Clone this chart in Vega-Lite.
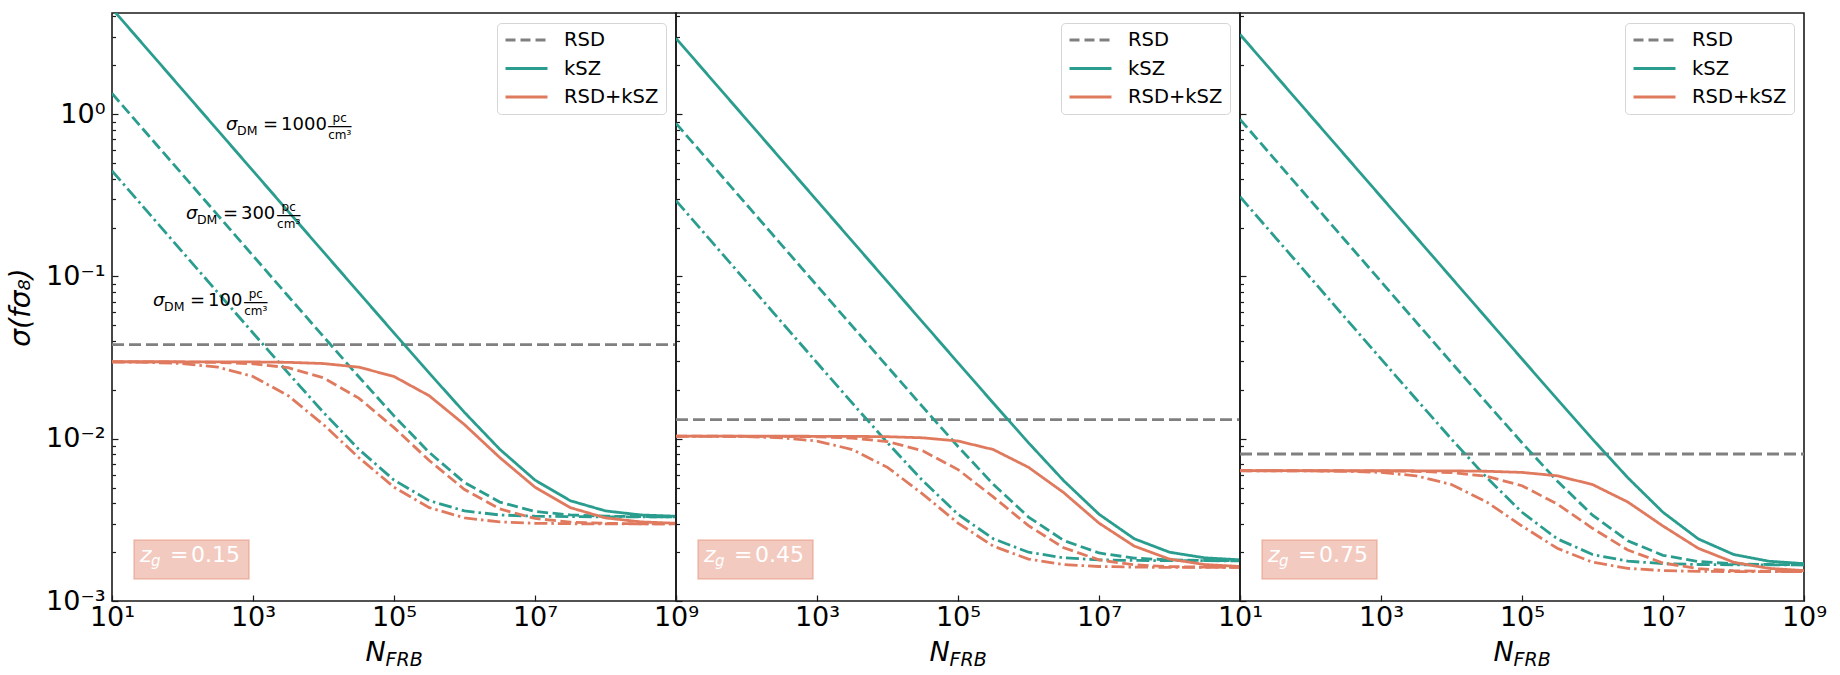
{
"$schema": "https://vega.github.io/schema/vega-lite/v6.json",
"background": "white",
"padding": {"left": 6, "top": 1, "right": 0, "bottom": 0},
"bounds": "flush",
"spacing": 0,
"config": {
  "font": "DejaVu Sans",
  "view": {"stroke": "#1a1a1a", "strokeWidth": 1.6},
  "axis": {"grid": false, "domain": false, "tickColor": "#1a1a1a", "tickWidth": 1.2, "labelFont": "DejaVu Sans", "labelFontSize": 27, "labelColor": "black", "labelFlush": false, "labelOverlap": false, "titleFont": "DejaVu Sans", "titleColor": "black", "titleFontWeight": "normal"},
  "legend": {"orient": "top-right", "offset": 10, "title": null, "symbolType": "stroke", "symbolSize": 1764, "symbolStrokeWidth": 2.8, "clipHeight": 20, "rowPadding": 8.5, "labelFont": "DejaVu Sans", "labelFontSize": 19.5, "labelColor": "black", "labelOffset": 15, "padding": 7, "strokeColor": "#d5d5d5", "fillColor": "white", "cornerRadius": 4}
},
"datasets": {
  "curves": [
    {"zg":"0.15","probe":"RSD","dm":"rsd","N":10,"sigma":0.038},
    {"zg":"0.15","probe":"RSD","dm":"rsd","N":1000000000,"sigma":0.038},
    {"zg":"0.15","probe":"kSZ","dm":"1000","N":10,"sigma":4.472},
    {"zg":"0.15","probe":"kSZ","dm":"1000","N":31.62,"sigma":2.515},
    {"zg":"0.15","probe":"kSZ","dm":"1000","N":100,"sigma":1.414},
    {"zg":"0.15","probe":"kSZ","dm":"1000","N":316.2,"sigma":0.7953},
    {"zg":"0.15","probe":"kSZ","dm":"1000","N":1000,"sigma":0.4472},
    {"zg":"0.15","probe":"kSZ","dm":"1000","N":3162,"sigma":0.2515},
    {"zg":"0.15","probe":"kSZ","dm":"1000","N":10000,"sigma":0.1414},
    {"zg":"0.15","probe":"kSZ","dm":"1000","N":31623,"sigma":0.0796},
    {"zg":"0.15","probe":"kSZ","dm":"1000","N":100000,"sigma":0.04484},
    {"zg":"0.15","probe":"kSZ","dm":"1000","N":316228,"sigma":0.02537},
    {"zg":"0.15","probe":"kSZ","dm":"1000","N":1000000,"sigma":0.01452},
    {"zg":"0.15","probe":"kSZ","dm":"1000","N":3162278,"sigma":0.00861},
    {"zg":"0.15","probe":"kSZ","dm":"1000","N":10000000,"sigma":0.00556},
    {"zg":"0.15","probe":"kSZ","dm":"1000","N":31622777,"sigma":0.00415},
    {"zg":"0.15","probe":"kSZ","dm":"1000","N":100000000,"sigma":0.00359},
    {"zg":"0.15","probe":"kSZ","dm":"1000","N":316227766,"sigma":0.00339},
    {"zg":"0.15","probe":"kSZ","dm":"1000","N":1000000000,"sigma":0.00333},
    {"zg":"0.15","probe":"kSZ","dm":"300","N":10,"sigma":1.342},
    {"zg":"0.15","probe":"kSZ","dm":"300","N":31.62,"sigma":0.7545},
    {"zg":"0.15","probe":"kSZ","dm":"300","N":100,"sigma":0.4243},
    {"zg":"0.15","probe":"kSZ","dm":"300","N":316.2,"sigma":0.2386},
    {"zg":"0.15","probe":"kSZ","dm":"300","N":1000,"sigma":0.1342},
    {"zg":"0.15","probe":"kSZ","dm":"300","N":3162,"sigma":0.07552},
    {"zg":"0.15","probe":"kSZ","dm":"300","N":10000,"sigma":0.04256},
    {"zg":"0.15","probe":"kSZ","dm":"300","N":31623,"sigma":0.02409},
    {"zg":"0.15","probe":"kSZ","dm":"300","N":100000,"sigma":0.01382},
    {"zg":"0.15","probe":"kSZ","dm":"300","N":316228,"sigma":0.00823},
    {"zg":"0.15","probe":"kSZ","dm":"300","N":1000000,"sigma":0.00537},
    {"zg":"0.15","probe":"kSZ","dm":"300","N":3162278,"sigma":0.00407},
    {"zg":"0.15","probe":"kSZ","dm":"300","N":10000000,"sigma":0.00356},
    {"zg":"0.15","probe":"kSZ","dm":"300","N":31622777,"sigma":0.00339},
    {"zg":"0.15","probe":"kSZ","dm":"300","N":100000000,"sigma":0.00333},
    {"zg":"0.15","probe":"kSZ","dm":"300","N":316227766,"sigma":0.00331},
    {"zg":"0.15","probe":"kSZ","dm":"300","N":1000000000,"sigma":0.0033},
    {"zg":"0.15","probe":"kSZ","dm":"100","N":10,"sigma":0.4472},
    {"zg":"0.15","probe":"kSZ","dm":"100","N":31.62,"sigma":0.2515},
    {"zg":"0.15","probe":"kSZ","dm":"100","N":100,"sigma":0.1414},
    {"zg":"0.15","probe":"kSZ","dm":"100","N":316.2,"sigma":0.0796},
    {"zg":"0.15","probe":"kSZ","dm":"100","N":1000,"sigma":0.04484},
    {"zg":"0.15","probe":"kSZ","dm":"100","N":3162,"sigma":0.02537},
    {"zg":"0.15","probe":"kSZ","dm":"100","N":10000,"sigma":0.01452},
    {"zg":"0.15","probe":"kSZ","dm":"100","N":31623,"sigma":0.00861},
    {"zg":"0.15","probe":"kSZ","dm":"100","N":100000,"sigma":0.00556},
    {"zg":"0.15","probe":"kSZ","dm":"100","N":316228,"sigma":0.00415},
    {"zg":"0.15","probe":"kSZ","dm":"100","N":1000000,"sigma":0.00359},
    {"zg":"0.15","probe":"kSZ","dm":"100","N":3162278,"sigma":0.00339},
    {"zg":"0.15","probe":"kSZ","dm":"100","N":10000000,"sigma":0.00333},
    {"zg":"0.15","probe":"kSZ","dm":"100","N":31622777,"sigma":0.00331},
    {"zg":"0.15","probe":"kSZ","dm":"100","N":100000000,"sigma":0.0033},
    {"zg":"0.15","probe":"kSZ","dm":"100","N":316227766,"sigma":0.0033},
    {"zg":"0.15","probe":"kSZ","dm":"100","N":1000000000,"sigma":0.0033},
    {"zg":"0.15","probe":"RSD+kSZ","dm":"1000","N":10,"sigma":0.0298},
    {"zg":"0.15","probe":"RSD+kSZ","dm":"1000","N":31.62,"sigma":0.0298},
    {"zg":"0.15","probe":"RSD+kSZ","dm":"1000","N":100,"sigma":0.02979},
    {"zg":"0.15","probe":"RSD+kSZ","dm":"1000","N":316.2,"sigma":0.02978},
    {"zg":"0.15","probe":"RSD+kSZ","dm":"1000","N":1000,"sigma":0.02972},
    {"zg":"0.15","probe":"RSD+kSZ","dm":"1000","N":3162,"sigma":0.02956},
    {"zg":"0.15","probe":"RSD+kSZ","dm":"1000","N":10000,"sigma":0.02905},
    {"zg":"0.15","probe":"RSD+kSZ","dm":"1000","N":31623,"sigma":0.02761},
    {"zg":"0.15","probe":"RSD+kSZ","dm":"1000","N":100000,"sigma":0.02418},
    {"zg":"0.15","probe":"RSD+kSZ","dm":"1000","N":316228,"sigma":0.01839},
    {"zg":"0.15","probe":"RSD+kSZ","dm":"1000","N":1000000,"sigma":0.01221},
    {"zg":"0.15","probe":"RSD+kSZ","dm":"1000","N":3162278,"sigma":0.007656},
    {"zg":"0.15","probe":"RSD+kSZ","dm":"1000","N":10000000,"sigma":0.005026},
    {"zg":"0.15","probe":"RSD+kSZ","dm":"1000","N":31622777,"sigma":0.003761},
    {"zg":"0.15","probe":"RSD+kSZ","dm":"1000","N":100000000,"sigma":0.003252},
    {"zg":"0.15","probe":"RSD+kSZ","dm":"1000","N":316227766,"sigma":0.003072},
    {"zg":"0.15","probe":"RSD+kSZ","dm":"1000","N":1000000000,"sigma":0.003013},
    {"zg":"0.15","probe":"RSD+kSZ","dm":"300","N":10,"sigma":0.02979},
    {"zg":"0.15","probe":"RSD+kSZ","dm":"300","N":31.62,"sigma":0.02977},
    {"zg":"0.15","probe":"RSD+kSZ","dm":"300","N":100,"sigma":0.02972},
    {"zg":"0.15","probe":"RSD+kSZ","dm":"300","N":316.2,"sigma":0.02953},
    {"zg":"0.15","probe":"RSD+kSZ","dm":"300","N":1000,"sigma":0.02897},
    {"zg":"0.15","probe":"RSD+kSZ","dm":"300","N":3162,"sigma":0.0274},
    {"zg":"0.15","probe":"RSD+kSZ","dm":"300","N":10000,"sigma":0.02373},
    {"zg":"0.15","probe":"RSD+kSZ","dm":"300","N":31623,"sigma":0.0178},
    {"zg":"0.15","probe":"RSD+kSZ","dm":"300","N":100000,"sigma":0.0117},
    {"zg":"0.15","probe":"RSD+kSZ","dm":"300","N":316228,"sigma":0.007341},
    {"zg":"0.15","probe":"RSD+kSZ","dm":"300","N":1000000,"sigma":0.004863},
    {"zg":"0.15","probe":"RSD+kSZ","dm":"300","N":3162278,"sigma":0.003691},
    {"zg":"0.15","probe":"RSD+kSZ","dm":"300","N":10000000,"sigma":0.003226},
    {"zg":"0.15","probe":"RSD+kSZ","dm":"300","N":31622777,"sigma":0.003063},
    {"zg":"0.15","probe":"RSD+kSZ","dm":"300","N":100000000,"sigma":0.00301},
    {"zg":"0.15","probe":"RSD+kSZ","dm":"300","N":316227766,"sigma":0.002993},
    {"zg":"0.15","probe":"RSD+kSZ","dm":"300","N":1000000000,"sigma":0.002987},
    {"zg":"0.15","probe":"RSD+kSZ","dm":"100","N":10,"sigma":0.02972},
    {"zg":"0.15","probe":"RSD+kSZ","dm":"100","N":31.62,"sigma":0.02956},
    {"zg":"0.15","probe":"RSD+kSZ","dm":"100","N":100,"sigma":0.02905},
    {"zg":"0.15","probe":"RSD+kSZ","dm":"100","N":316.2,"sigma":0.02761},
    {"zg":"0.15","probe":"RSD+kSZ","dm":"100","N":1000,"sigma":0.02418},
    {"zg":"0.15","probe":"RSD+kSZ","dm":"100","N":3162,"sigma":0.01839},
    {"zg":"0.15","probe":"RSD+kSZ","dm":"100","N":10000,"sigma":0.01221},
    {"zg":"0.15","probe":"RSD+kSZ","dm":"100","N":31623,"sigma":0.007656},
    {"zg":"0.15","probe":"RSD+kSZ","dm":"100","N":100000,"sigma":0.005026},
    {"zg":"0.15","probe":"RSD+kSZ","dm":"100","N":316228,"sigma":0.003761},
    {"zg":"0.15","probe":"RSD+kSZ","dm":"100","N":1000000,"sigma":0.003252},
    {"zg":"0.15","probe":"RSD+kSZ","dm":"100","N":3162278,"sigma":0.003072},
    {"zg":"0.15","probe":"RSD+kSZ","dm":"100","N":10000000,"sigma":0.003013},
    {"zg":"0.15","probe":"RSD+kSZ","dm":"100","N":31622777,"sigma":0.002994},
    {"zg":"0.15","probe":"RSD+kSZ","dm":"100","N":100000000,"sigma":0.002988},
    {"zg":"0.15","probe":"RSD+kSZ","dm":"100","N":316227766,"sigma":0.002986},
    {"zg":"0.15","probe":"RSD+kSZ","dm":"100","N":1000000000,"sigma":0.002985},

    {"zg":"0.45","probe":"RSD","dm":"rsd","N":10,"sigma":0.0131},
    {"zg":"0.45","probe":"RSD","dm":"rsd","N":1000000000,"sigma":0.0131},
    {"zg":"0.45","probe":"kSZ","dm":"1000","N":10,"sigma":2.933},
    {"zg":"0.45","probe":"kSZ","dm":"1000","N":31.62,"sigma":1.649},
    {"zg":"0.45","probe":"kSZ","dm":"1000","N":100,"sigma":0.9274},
    {"zg":"0.45","probe":"kSZ","dm":"1000","N":316.2,"sigma":0.5215},
    {"zg":"0.45","probe":"kSZ","dm":"1000","N":1000,"sigma":0.2933},
    {"zg":"0.45","probe":"kSZ","dm":"1000","N":3162,"sigma":0.1649},
    {"zg":"0.45","probe":"kSZ","dm":"1000","N":10000,"sigma":0.09275},
    {"zg":"0.45","probe":"kSZ","dm":"1000","N":31623,"sigma":0.05218},
    {"zg":"0.45","probe":"kSZ","dm":"1000","N":100000,"sigma":0.02938},
    {"zg":"0.45","probe":"kSZ","dm":"1000","N":316228,"sigma":0.01659},
    {"zg":"0.45","probe":"kSZ","dm":"1000","N":1000000,"sigma":0.009441},
    {"zg":"0.45","probe":"kSZ","dm":"1000","N":3162278,"sigma":0.005507},
    {"zg":"0.45","probe":"kSZ","dm":"1000","N":10000000,"sigma":0.003425},
    {"zg":"0.45","probe":"kSZ","dm":"1000","N":31622777,"sigma":0.002419},
    {"zg":"0.45","probe":"kSZ","dm":"1000","N":100000000,"sigma":0.001998},
    {"zg":"0.45","probe":"kSZ","dm":"1000","N":316227766,"sigma":0.001845},
    {"zg":"0.45","probe":"kSZ","dm":"1000","N":1000000000,"sigma":0.001794},
    {"zg":"0.45","probe":"kSZ","dm":"300","N":10,"sigma":0.8775},
    {"zg":"0.45","probe":"kSZ","dm":"300","N":31.62,"sigma":0.4935},
    {"zg":"0.45","probe":"kSZ","dm":"300","N":100,"sigma":0.2775},
    {"zg":"0.45","probe":"kSZ","dm":"300","N":316.2,"sigma":0.156},
    {"zg":"0.45","probe":"kSZ","dm":"300","N":1000,"sigma":0.08777},
    {"zg":"0.45","probe":"kSZ","dm":"300","N":3162,"sigma":0.04938},
    {"zg":"0.45","probe":"kSZ","dm":"300","N":10000,"sigma":0.02781},
    {"zg":"0.45","probe":"kSZ","dm":"300","N":31623,"sigma":0.0157},
    {"zg":"0.45","probe":"kSZ","dm":"300","N":100000,"sigma":0.008952},
    {"zg":"0.45","probe":"kSZ","dm":"300","N":316228,"sigma":0.005242},
    {"zg":"0.45","probe":"kSZ","dm":"300","N":1000000,"sigma":0.003291},
    {"zg":"0.45","probe":"kSZ","dm":"300","N":3162278,"sigma":0.00236},
    {"zg":"0.45","probe":"kSZ","dm":"300","N":10000000,"sigma":0.001976},
    {"zg":"0.45","probe":"kSZ","dm":"300","N":31622777,"sigma":0.001837},
    {"zg":"0.45","probe":"kSZ","dm":"300","N":100000000,"sigma":0.001792},
    {"zg":"0.45","probe":"kSZ","dm":"300","N":316227766,"sigma":0.001777},
    {"zg":"0.45","probe":"kSZ","dm":"300","N":1000000000,"sigma":0.001772},
    {"zg":"0.45","probe":"kSZ","dm":"100","N":10,"sigma":0.2933},
    {"zg":"0.45","probe":"kSZ","dm":"100","N":31.62,"sigma":0.1649},
    {"zg":"0.45","probe":"kSZ","dm":"100","N":100,"sigma":0.09275},
    {"zg":"0.45","probe":"kSZ","dm":"100","N":316.2,"sigma":0.05218},
    {"zg":"0.45","probe":"kSZ","dm":"100","N":1000,"sigma":0.02938},
    {"zg":"0.45","probe":"kSZ","dm":"100","N":3162,"sigma":0.01659},
    {"zg":"0.45","probe":"kSZ","dm":"100","N":10000,"sigma":0.009441},
    {"zg":"0.45","probe":"kSZ","dm":"100","N":31623,"sigma":0.005507},
    {"zg":"0.45","probe":"kSZ","dm":"100","N":100000,"sigma":0.003425},
    {"zg":"0.45","probe":"kSZ","dm":"100","N":316228,"sigma":0.002419},
    {"zg":"0.45","probe":"kSZ","dm":"100","N":1000000,"sigma":0.001998},
    {"zg":"0.45","probe":"kSZ","dm":"100","N":3162278,"sigma":0.001845},
    {"zg":"0.45","probe":"kSZ","dm":"100","N":10000000,"sigma":0.001794},
    {"zg":"0.45","probe":"kSZ","dm":"100","N":31622777,"sigma":0.001778},
    {"zg":"0.45","probe":"kSZ","dm":"100","N":100000000,"sigma":0.001772},
    {"zg":"0.45","probe":"kSZ","dm":"100","N":316227766,"sigma":0.001771},
    {"zg":"0.45","probe":"kSZ","dm":"100","N":1000000000,"sigma":0.00177},
    {"zg":"0.45","probe":"RSD+kSZ","dm":"1000","N":10,"sigma":0.01036},
    {"zg":"0.45","probe":"RSD+kSZ","dm":"1000","N":31.62,"sigma":0.01036},
    {"zg":"0.45","probe":"RSD+kSZ","dm":"1000","N":100,"sigma":0.01036},
    {"zg":"0.45","probe":"RSD+kSZ","dm":"1000","N":316.2,"sigma":0.01036},
    {"zg":"0.45","probe":"RSD+kSZ","dm":"1000","N":1000,"sigma":0.01035},
    {"zg":"0.45","probe":"RSD+kSZ","dm":"1000","N":3162,"sigma":0.01034},
    {"zg":"0.45","probe":"RSD+kSZ","dm":"1000","N":10000,"sigma":0.01029},
    {"zg":"0.45","probe":"RSD+kSZ","dm":"1000","N":31623,"sigma":0.01013},
    {"zg":"0.45","probe":"RSD+kSZ","dm":"1000","N":100000,"sigma":0.009677},
    {"zg":"0.45","probe":"RSD+kSZ","dm":"1000","N":316228,"sigma":0.008577},
    {"zg":"0.45","probe":"RSD+kSZ","dm":"1000","N":1000000,"sigma":0.006664},
    {"zg":"0.45","probe":"RSD+kSZ","dm":"1000","N":3162278,"sigma":0.00465},
    {"zg":"0.45","probe":"RSD+kSZ","dm":"1000","N":10000000,"sigma":0.00302},
    {"zg":"0.45","probe":"RSD+kSZ","dm":"1000","N":31622777,"sigma":0.002179},
    {"zg":"0.45","probe":"RSD+kSZ","dm":"1000","N":100000000,"sigma":0.001812},
    {"zg":"0.45","probe":"RSD+kSZ","dm":"1000","N":316227766,"sigma":0.001677},
    {"zg":"0.45","probe":"RSD+kSZ","dm":"1000","N":1000000000,"sigma":0.001632},
    {"zg":"0.45","probe":"RSD+kSZ","dm":"300","N":10,"sigma":0.01036},
    {"zg":"0.45","probe":"RSD+kSZ","dm":"300","N":31.62,"sigma":0.01036},
    {"zg":"0.45","probe":"RSD+kSZ","dm":"300","N":100,"sigma":0.01035},
    {"zg":"0.45","probe":"RSD+kSZ","dm":"300","N":316.2,"sigma":0.01033},
    {"zg":"0.45","probe":"RSD+kSZ","dm":"300","N":1000,"sigma":0.01028},
    {"zg":"0.45","probe":"RSD+kSZ","dm":"300","N":3162,"sigma":0.0101},
    {"zg":"0.45","probe":"RSD+kSZ","dm":"300","N":10000,"sigma":0.009605},
    {"zg":"0.45","probe":"RSD+kSZ","dm":"300","N":31623,"sigma":0.008425},
    {"zg":"0.45","probe":"RSD+kSZ","dm":"300","N":100000,"sigma":0.006455},
    {"zg":"0.45","probe":"RSD+kSZ","dm":"300","N":316228,"sigma":0.00438},
    {"zg":"0.45","probe":"RSD+kSZ","dm":"300","N":1000000,"sigma":0.002911},
    {"zg":"0.45","probe":"RSD+kSZ","dm":"300","N":3162278,"sigma":0.002128},
    {"zg":"0.45","probe":"RSD+kSZ","dm":"300","N":10000000,"sigma":0.001792},
    {"zg":"0.45","probe":"RSD+kSZ","dm":"300","N":31622777,"sigma":0.00167},
    {"zg":"0.45","probe":"RSD+kSZ","dm":"300","N":100000000,"sigma":0.001629},
    {"zg":"0.45","probe":"RSD+kSZ","dm":"300","N":316227766,"sigma":0.001616},
    {"zg":"0.45","probe":"RSD+kSZ","dm":"300","N":1000000000,"sigma":0.001612},
    {"zg":"0.45","probe":"RSD+kSZ","dm":"100","N":10,"sigma":0.01035},
    {"zg":"0.45","probe":"RSD+kSZ","dm":"100","N":31.62,"sigma":0.01034},
    {"zg":"0.45","probe":"RSD+kSZ","dm":"100","N":100,"sigma":0.01029},
    {"zg":"0.45","probe":"RSD+kSZ","dm":"100","N":316.2,"sigma":0.01013},
    {"zg":"0.45","probe":"RSD+kSZ","dm":"100","N":1000,"sigma":0.009677},
    {"zg":"0.45","probe":"RSD+kSZ","dm":"100","N":3162,"sigma":0.008577},
    {"zg":"0.45","probe":"RSD+kSZ","dm":"100","N":10000,"sigma":0.006664},
    {"zg":"0.45","probe":"RSD+kSZ","dm":"100","N":31623,"sigma":0.004559},
    {"zg":"0.45","probe":"RSD+kSZ","dm":"100","N":100000,"sigma":0.00302},
    {"zg":"0.45","probe":"RSD+kSZ","dm":"100","N":316228,"sigma":0.002179},
    {"zg":"0.45","probe":"RSD+kSZ","dm":"100","N":1000000,"sigma":0.001812},
    {"zg":"0.45","probe":"RSD+kSZ","dm":"100","N":3162278,"sigma":0.001677},
    {"zg":"0.45","probe":"RSD+kSZ","dm":"100","N":10000000,"sigma":0.001632},
    {"zg":"0.45","probe":"RSD+kSZ","dm":"100","N":31622777,"sigma":0.001617},
    {"zg":"0.45","probe":"RSD+kSZ","dm":"100","N":100000000,"sigma":0.001612},
    {"zg":"0.45","probe":"RSD+kSZ","dm":"100","N":316227766,"sigma":0.001611},
    {"zg":"0.45","probe":"RSD+kSZ","dm":"100","N":1000000000,"sigma":0.00161},

    {"zg":"0.75","probe":"RSD","dm":"rsd","N":10,"sigma":0.00805},
    {"zg":"0.75","probe":"RSD","dm":"rsd","N":1000000000,"sigma":0.00805},
    {"zg":"0.75","probe":"kSZ","dm":"1000","N":10,"sigma":3.098},
    {"zg":"0.75","probe":"kSZ","dm":"1000","N":31.62,"sigma":1.742},
    {"zg":"0.75","probe":"kSZ","dm":"1000","N":100,"sigma":0.9798},
    {"zg":"0.75","probe":"kSZ","dm":"1000","N":316.2,"sigma":0.551},
    {"zg":"0.75","probe":"kSZ","dm":"1000","N":1000,"sigma":0.3098},
    {"zg":"0.75","probe":"kSZ","dm":"1000","N":3162,"sigma":0.1742},
    {"zg":"0.75","probe":"kSZ","dm":"1000","N":10000,"sigma":0.09799},
    {"zg":"0.75","probe":"kSZ","dm":"1000","N":31623,"sigma":0.05512},
    {"zg":"0.75","probe":"kSZ","dm":"1000","N":100000,"sigma":0.03103},
    {"zg":"0.75","probe":"kSZ","dm":"1000","N":316228,"sigma":0.0175},
    {"zg":"0.75","probe":"kSZ","dm":"1000","N":1000000,"sigma":0.009939},
    {"zg":"0.75","probe":"kSZ","dm":"1000","N":3162278,"sigma":0.005757},
    {"zg":"0.75","probe":"kSZ","dm":"1000","N":10000000,"sigma":0.00352},
    {"zg":"0.75","probe":"kSZ","dm":"1000","N":31622777,"sigma":0.002414},
    {"zg":"0.75","probe":"kSZ","dm":"1000","N":100000000,"sigma":0.001936},
    {"zg":"0.75","probe":"kSZ","dm":"1000","N":316227766,"sigma":0.001759},
    {"zg":"0.75","probe":"kSZ","dm":"1000","N":1000000000,"sigma":0.001699},
    {"zg":"0.75","probe":"kSZ","dm":"300","N":10,"sigma":0.9295},
    {"zg":"0.75","probe":"kSZ","dm":"300","N":31.62,"sigma":0.5227},
    {"zg":"0.75","probe":"kSZ","dm":"300","N":100,"sigma":0.2939},
    {"zg":"0.75","probe":"kSZ","dm":"300","N":316.2,"sigma":0.1653},
    {"zg":"0.75","probe":"kSZ","dm":"300","N":1000,"sigma":0.09297},
    {"zg":"0.75","probe":"kSZ","dm":"300","N":3162,"sigma":0.0523},
    {"zg":"0.75","probe":"kSZ","dm":"300","N":10000,"sigma":0.02944},
    {"zg":"0.75","probe":"kSZ","dm":"300","N":31623,"sigma":0.01661},
    {"zg":"0.75","probe":"kSZ","dm":"300","N":100000,"sigma":0.009444},
    {"zg":"0.75","probe":"kSZ","dm":"300","N":316228,"sigma":0.005487},
    {"zg":"0.75","probe":"kSZ","dm":"300","N":1000000,"sigma":0.003381},
    {"zg":"0.75","probe":"kSZ","dm":"300","N":3162278,"sigma":0.00235},
    {"zg":"0.75","probe":"kSZ","dm":"300","N":10000000,"sigma":0.001912},
    {"zg":"0.75","probe":"kSZ","dm":"300","N":31622777,"sigma":0.00175},
    {"zg":"0.75","probe":"kSZ","dm":"300","N":100000000,"sigma":0.001696},
    {"zg":"0.75","probe":"kSZ","dm":"300","N":316227766,"sigma":0.001678},
    {"zg":"0.75","probe":"kSZ","dm":"300","N":1000000000,"sigma":0.001673},
    {"zg":"0.75","probe":"kSZ","dm":"100","N":10,"sigma":0.3098},
    {"zg":"0.75","probe":"kSZ","dm":"100","N":31.62,"sigma":0.1742},
    {"zg":"0.75","probe":"kSZ","dm":"100","N":100,"sigma":0.09799},
    {"zg":"0.75","probe":"kSZ","dm":"100","N":316.2,"sigma":0.05512},
    {"zg":"0.75","probe":"kSZ","dm":"100","N":1000,"sigma":0.03103},
    {"zg":"0.75","probe":"kSZ","dm":"100","N":3162,"sigma":0.0175},
    {"zg":"0.75","probe":"kSZ","dm":"100","N":10000,"sigma":0.009939},
    {"zg":"0.75","probe":"kSZ","dm":"100","N":31623,"sigma":0.005757},
    {"zg":"0.75","probe":"kSZ","dm":"100","N":100000,"sigma":0.00352},
    {"zg":"0.75","probe":"kSZ","dm":"100","N":316228,"sigma":0.002414},
    {"zg":"0.75","probe":"kSZ","dm":"100","N":1000000,"sigma":0.001936},
    {"zg":"0.75","probe":"kSZ","dm":"100","N":3162278,"sigma":0.001759},
    {"zg":"0.75","probe":"kSZ","dm":"100","N":10000000,"sigma":0.001699},
    {"zg":"0.75","probe":"kSZ","dm":"100","N":31622777,"sigma":0.001679},
    {"zg":"0.75","probe":"kSZ","dm":"100","N":100000000,"sigma":0.001673},
    {"zg":"0.75","probe":"kSZ","dm":"100","N":316227766,"sigma":0.001671},
    {"zg":"0.75","probe":"kSZ","dm":"100","N":1000000000,"sigma":0.00167},
    {"zg":"0.75","probe":"RSD+kSZ","dm":"1000","N":10,"sigma":0.00635},
    {"zg":"0.75","probe":"RSD+kSZ","dm":"1000","N":31.62,"sigma":0.00635},
    {"zg":"0.75","probe":"RSD+kSZ","dm":"1000","N":100,"sigma":0.00635},
    {"zg":"0.75","probe":"RSD+kSZ","dm":"1000","N":316.2,"sigma":0.006349},
    {"zg":"0.75","probe":"RSD+kSZ","dm":"1000","N":1000,"sigma":0.006348},
    {"zg":"0.75","probe":"RSD+kSZ","dm":"1000","N":3162,"sigma":0.006345},
    {"zg":"0.75","probe":"RSD+kSZ","dm":"1000","N":10000,"sigma":0.006334},
    {"zg":"0.75","probe":"RSD+kSZ","dm":"1000","N":31623,"sigma":0.006301},
    {"zg":"0.75","probe":"RSD+kSZ","dm":"1000","N":100000,"sigma":0.006199},
    {"zg":"0.75","probe":"RSD+kSZ","dm":"1000","N":316228,"sigma":0.005909},
    {"zg":"0.75","probe":"RSD+kSZ","dm":"1000","N":1000000,"sigma":0.00522},
    {"zg":"0.75","probe":"RSD+kSZ","dm":"1000","N":3162278,"sigma":0.004075},
    {"zg":"0.75","probe":"RSD+kSZ","dm":"1000","N":10000000,"sigma":0.002897},
    {"zg":"0.75","probe":"RSD+kSZ","dm":"1000","N":31622777,"sigma":0.002112},
    {"zg":"0.75","probe":"RSD+kSZ","dm":"1000","N":100000000,"sigma":0.001734},
    {"zg":"0.75","probe":"RSD+kSZ","dm":"1000","N":316227766,"sigma":0.001589},
    {"zg":"0.75","probe":"RSD+kSZ","dm":"1000","N":1000000000,"sigma":0.001539},
    {"zg":"0.75","probe":"RSD+kSZ","dm":"300","N":10,"sigma":0.00635},
    {"zg":"0.75","probe":"RSD+kSZ","dm":"300","N":31.62,"sigma":0.006349},
    {"zg":"0.75","probe":"RSD+kSZ","dm":"300","N":100,"sigma":0.006348},
    {"zg":"0.75","probe":"RSD+kSZ","dm":"300","N":316.2,"sigma":0.006344},
    {"zg":"0.75","probe":"RSD+kSZ","dm":"300","N":1000,"sigma":0.006333},
    {"zg":"0.75","probe":"RSD+kSZ","dm":"300","N":3162,"sigma":0.006296},
    {"zg":"0.75","probe":"RSD+kSZ","dm":"300","N":10000,"sigma":0.006183},
    {"zg":"0.75","probe":"RSD+kSZ","dm":"300","N":31623,"sigma":0.005866},
    {"zg":"0.75","probe":"RSD+kSZ","dm":"300","N":100000,"sigma":0.005131},
    {"zg":"0.75","probe":"RSD+kSZ","dm":"300","N":316228,"sigma":0.00396},
    {"zg":"0.75","probe":"RSD+kSZ","dm":"300","N":1000000,"sigma":0.002805},
    {"zg":"0.75","probe":"RSD+kSZ","dm":"300","N":3162278,"sigma":0.002063},
    {"zg":"0.75","probe":"RSD+kSZ","dm":"300","N":10000000,"sigma":0.001714},
    {"zg":"0.75","probe":"RSD+kSZ","dm":"300","N":31622777,"sigma":0.001581},
    {"zg":"0.75","probe":"RSD+kSZ","dm":"300","N":100000000,"sigma":0.001536},
    {"zg":"0.75","probe":"RSD+kSZ","dm":"300","N":316227766,"sigma":0.001522},
    {"zg":"0.75","probe":"RSD+kSZ","dm":"300","N":1000000000,"sigma":0.001517},
    {"zg":"0.75","probe":"RSD+kSZ","dm":"100","N":10,"sigma":0.006348},
    {"zg":"0.75","probe":"RSD+kSZ","dm":"100","N":31.62,"sigma":0.006345},
    {"zg":"0.75","probe":"RSD+kSZ","dm":"100","N":100,"sigma":0.006334},
    {"zg":"0.75","probe":"RSD+kSZ","dm":"100","N":316.2,"sigma":0.006301},
    {"zg":"0.75","probe":"RSD+kSZ","dm":"100","N":1000,"sigma":0.006199},
    {"zg":"0.75","probe":"RSD+kSZ","dm":"100","N":3162,"sigma":0.005909},
    {"zg":"0.75","probe":"RSD+kSZ","dm":"100","N":10000,"sigma":0.00522},
    {"zg":"0.75","probe":"RSD+kSZ","dm":"100","N":31623,"sigma":0.004075},
    {"zg":"0.75","probe":"RSD+kSZ","dm":"100","N":100000,"sigma":0.002897},
    {"zg":"0.75","probe":"RSD+kSZ","dm":"100","N":316228,"sigma":0.002112},
    {"zg":"0.75","probe":"RSD+kSZ","dm":"100","N":1000000,"sigma":0.001734},
    {"zg":"0.75","probe":"RSD+kSZ","dm":"100","N":3162278,"sigma":0.001589},
    {"zg":"0.75","probe":"RSD+kSZ","dm":"100","N":10000000,"sigma":0.001539},
    {"zg":"0.75","probe":"RSD+kSZ","dm":"100","N":31622777,"sigma":0.001523},
    {"zg":"0.75","probe":"RSD+kSZ","dm":"100","N":100000000,"sigma":0.001517},
    {"zg":"0.75","probe":"RSD+kSZ","dm":"100","N":316227766,"sigma":0.001516},
    {"zg":"0.75","probe":"RSD+kSZ","dm":"100","N":1000000000,"sigma":0.001515}
  ],
  "boxes": [
    {"zg":"0.15","x1":20.5,"x2":879,"y1":0.001366,"y2":0.002376,"ym":0.00191,"label":"0.15"},
    {"zg":"0.45","x1":20.5,"x2":879,"y1":0.001366,"y2":0.002376,"ym":0.00191,"label":"0.45"},
    {"zg":"0.75","x1":20.5,"x2":879,"y1":0.001366,"y2":0.002376,"ym":0.00191,"label":"0.75"}
  ],
  "notes": [
    {"N":415,"sigma":0.857,"num":"1000"},
    {"N":112,"sigma":0.244,"num":"300"},
    {"N":38.2,"sigma":0.0705,"num":"100"}
  ]
},
"resolve": {"scale": {"x": "independent", "y": "independent", "color": "independent", "strokeDash": "independent"}},
"hconcat": [
  {
    "width": 564, "height": 588,
    "resolve": {"axis": {"x": "independent"}},
    "layer": [
      {
        "data": {"name": "curves"},
        "transform": [{"filter": "datum.zg == '0.15'"}],
        "mark": {"type": "line", "clip": true, "strokeWidth": 2.8},
        "encoding": {
          "x": {"field": "N", "type": "quantitative", "scale": {"type": "log", "domain": [10, 1000000000], "nice": false},
            "axis": {"orient": "bottom", "values": [10, 1000, 100000, 10000000, 1000000000], "labelExpr": "'10' + ['⁰','¹','²','³','⁴','⁵','⁶','⁷','⁸','⁹'][round(log(datum.value)/LN10)]", "tickSize": -6, "labelPadding": 9, "title": "N", "titleFontSize": 27, "titleFontStyle": "italic", "titleX": 253, "titleY": 59, "titleAlign": "left", "titleBaseline": "alphabetic"}},
          "y": {"field": "sigma", "type": "quantitative", "scale": {"type": "log", "domain": [0.001, 4.2], "nice": false},
            "axis": {"values": [0.001,0.002,0.003,0.004,0.005,0.006,0.007,0.008,0.009,0.01,0.02,0.03,0.04,0.05,0.06,0.07,0.08,0.09,0.1,0.2,0.3,0.4,0.5,0.6,0.7,0.8,0.9,1,2,3,4],
              "labelExpr": "abs(log(datum.value)/LN10 - round(log(datum.value)/LN10)) < 0.01 ? '10' + (datum.value < 1 ? '⁻' : '') + ['⁰','¹','²','³','⁴','⁵','⁶','⁷','⁸','⁹'][abs(round(log(datum.value)/LN10))] : ''",
              "tickSize": {"condition": {"test": "indexof([0.001,0.01,0.1,1], datum.value) >= 0", "value": -6}, "value": -3.5},
              "labelPadding": 13, "labelBaseline": "middle",
              "title": "σ(fσ₈)", "titleFontSize": 28, "titleFontStyle": "italic", "titlePadding": 10}},
          "color": {"field": "probe", "type": "nominal", "scale": {"domain": ["RSD", "kSZ", "RSD+kSZ"], "range": ["#808080", "#2A9D8F", "#E07A5F"]},
            "legend": {"encode": {"symbols": {"update": {"strokeDash": {"signal": "datum.value == 'RSD' ? [10, 5] : [1, 0]"}}}}}},
          "strokeDash": {"field": "dm", "type": "nominal", "scale": {"domain": ["rsd", "1000", "300", "100"], "range": [[12, 5], [1, 0], [11, 4.5], [13, 4, 2.5, 4]]}, "legend": null}
        }
      },
      {
        "data": {"name": "boxes"},
        "transform": [{"filter": "datum.zg == '0.15'"}],
        "mark": {"type": "rect", "fill": "#E07A5F", "fillOpacity": 0.4, "stroke": "#E07A5F", "strokeOpacity": 0.4, "strokeWidth": 1.5},
        "encoding": {
          "x": {"field": "x1", "type": "quantitative", "scale": {"type": "log", "domain": [10, 1000000000], "nice": false},
            "axis": {"orient": "bottom", "labels": false, "ticks": false, "domain": false, "title": "FRB", "titleFontSize": 19, "titleFontStyle": "italic", "titleX": 273, "titleY": 64, "titleAlign": "left", "titleBaseline": "alphabetic"}},
          "x2": {"field": "x2"},
          "y": {"field": "y1", "type": "quantitative", "scale": {"type": "log", "domain": [0.001, 4.2], "nice": false}},
          "y2": {"field": "y2"}
        }
      },
      {
        "data": {"name": "boxes"},
        "transform": [{"filter": "datum.zg == '0.15'"}],
        "mark": {"type": "text", "text": "z", "align": "left", "baseline": "middle", "dx": 6, "fontSize": 22, "fontStyle": "italic", "color": "white"},
        "encoding": {"x": {"field": "x1", "type": "quantitative", "axis": null}, "y": {"field": "ym", "type": "quantitative"}}
      },
      {
        "data": {"name": "boxes"},
        "transform": [{"filter": "datum.zg == '0.15'"}],
        "mark": {"type": "text", "text": "g", "align": "left", "baseline": "middle", "dx": 17, "dy": 6, "fontSize": 15, "fontStyle": "italic", "color": "white"},
        "encoding": {"x": {"field": "x1", "type": "quantitative", "axis": null}, "y": {"field": "ym", "type": "quantitative"}}
      },
      {
        "data": {"name": "boxes"},
        "transform": [{"filter": "datum.zg == '0.15'"}],
        "mark": {"type": "text", "align": "left", "baseline": "middle", "dx": 36, "fontSize": 22, "color": "white"},
        "encoding": {"x": {"field": "x1", "type": "quantitative", "axis": null}, "y": {"field": "ym", "type": "quantitative"}, "text": {"value": "="}}
      },
      {
        "data": {"name": "boxes"},
        "transform": [{"filter": "datum.zg == '0.15'"}],
        "mark": {"type": "text", "align": "left", "baseline": "middle", "dx": 57, "fontSize": 22, "color": "white"},
        "encoding": {"x": {"field": "x1", "type": "quantitative", "axis": null}, "y": {"field": "ym", "type": "quantitative"}, "text": {"field": "label"}}
      },
      {
        "data": {"name": "notes"},
        "mark": {"type": "text", "text": "σ", "align": "left", "baseline": "middle", "fontSize": 18, "fontStyle": "italic", "color": "black"},
        "encoding": {"x": {"field": "N", "type": "quantitative", "axis": null}, "y": {"field": "sigma", "type": "quantitative"}}
      },
      {
        "data": {"name": "notes"},
        "mark": {"type": "text", "text": "DM", "align": "left", "baseline": "middle", "dx": 11, "dy": 6, "fontSize": 12.5, "color": "black"},
        "encoding": {"x": {"field": "N", "type": "quantitative", "axis": null}, "y": {"field": "sigma", "type": "quantitative"}}
      },
      {
        "data": {"name": "notes"},
        "mark": {"type": "text", "text": "=", "align": "left", "baseline": "middle", "dx": 37, "fontSize": 18, "color": "black"},
        "encoding": {"x": {"field": "N", "type": "quantitative", "axis": null}, "y": {"field": "sigma", "type": "quantitative"}}
      },
      {
        "data": {"name": "notes"},
        "mark": {"type": "text", "align": "left", "baseline": "middle", "dx": 55, "fontSize": 18, "color": "black"},
        "encoding": {"x": {"field": "N", "type": "quantitative", "axis": null}, "y": {"field": "sigma", "type": "quantitative"}, "text": {"field": "num"}}
      },
      {
        "data": {"name": "notes"},
        "mark": {"type": "text", "text": "pc", "align": "center", "baseline": "middle", "dx": {"expr": "70 + 10.9 * length(datum.num)"}, "dy": -7, "fontSize": 12, "color": "black"},
        "encoding": {"x": {"field": "N", "type": "quantitative", "axis": null}, "y": {"field": "sigma", "type": "quantitative"}}
      },
      {
        "data": {"name": "notes"},
        "mark": {"type": "text", "text": "—", "align": "center", "baseline": "middle", "dx": {"expr": "70 + 10.9 * length(datum.num)"}, "dy": 1, "fontSize": 26, "fontWeight": 300, "color": "black"},
        "encoding": {"x": {"field": "N", "type": "quantitative", "axis": null}, "y": {"field": "sigma", "type": "quantitative"}}
      },
      {
        "data": {"name": "notes"},
        "mark": {"type": "text", "text": "cm³", "align": "center", "baseline": "middle", "dx": {"expr": "70 + 10.9 * length(datum.num)"}, "dy": 10, "fontSize": 12, "color": "black"},
        "encoding": {"x": {"field": "N", "type": "quantitative", "axis": null}, "y": {"field": "sigma", "type": "quantitative"}}
      }
    ]
  },
  {
    "width": 564, "height": 588,
    "resolve": {"axis": {"x": "independent"}},
    "layer": [
      {
        "data": {"name": "curves"},
        "transform": [{"filter": "datum.zg == '0.45'"}],
        "mark": {"type": "line", "clip": true, "strokeWidth": 2.8},
        "encoding": {
          "x": {"field": "N", "type": "quantitative", "scale": {"type": "log", "domain": [10, 1000000000], "nice": false},
            "axis": {"orient": "bottom", "values": [10, 1000, 100000, 10000000, 1000000000], "labelExpr": "datum.value == 10 || datum.value == 1000000000 ? '' : '10' + ['⁰','¹','²','³','⁴','⁵','⁶','⁷','⁸','⁹'][round(log(datum.value)/LN10)]", "tickSize": -6, "labelPadding": 9, "title": "N", "titleFontSize": 27, "titleFontStyle": "italic", "titleX": 253, "titleY": 59, "titleAlign": "left", "titleBaseline": "alphabetic"}},
          "y": {"field": "sigma", "type": "quantitative", "scale": {"type": "log", "domain": [0.001, 4.2], "nice": false},
            "axis": {"values": [0.001,0.002,0.003,0.004,0.005,0.006,0.007,0.008,0.009,0.01,0.02,0.03,0.04,0.05,0.06,0.07,0.08,0.09,0.1,0.2,0.3,0.4,0.5,0.6,0.7,0.8,0.9,1,2,3,4],
              "labels": false, "title": null,
              "tickSize": {"condition": {"test": "indexof([0.001,0.01,0.1,1], datum.value) >= 0", "value": -6}, "value": -3.5}}},
          "color": {"field": "probe", "type": "nominal", "scale": {"domain": ["RSD", "kSZ", "RSD+kSZ"], "range": ["#808080", "#2A9D8F", "#E07A5F"]},
            "legend": {"encode": {"symbols": {"update": {"strokeDash": {"signal": "datum.value == 'RSD' ? [10, 5] : [1, 0]"}}}}}},
          "strokeDash": {"field": "dm", "type": "nominal", "scale": {"domain": ["rsd", "1000", "300", "100"], "range": [[12, 5], [1, 0], [11, 4.5], [13, 4, 2.5, 4]]}, "legend": null}
        }
      },
      {
        "data": {"name": "boxes"},
        "transform": [{"filter": "datum.zg == '0.45'"}],
        "mark": {"type": "rect", "fill": "#E07A5F", "fillOpacity": 0.4, "stroke": "#E07A5F", "strokeOpacity": 0.4, "strokeWidth": 1.5},
        "encoding": {
          "x": {"field": "x1", "type": "quantitative", "scale": {"type": "log", "domain": [10, 1000000000], "nice": false},
            "axis": {"orient": "bottom", "labels": false, "ticks": false, "domain": false, "title": "FRB", "titleFontSize": 19, "titleFontStyle": "italic", "titleX": 273, "titleY": 64, "titleAlign": "left", "titleBaseline": "alphabetic"}},
          "x2": {"field": "x2"},
          "y": {"field": "y1", "type": "quantitative", "scale": {"type": "log", "domain": [0.001, 4.2], "nice": false}},
          "y2": {"field": "y2"}
        }
      },
      {
        "data": {"name": "boxes"},
        "transform": [{"filter": "datum.zg == '0.45'"}],
        "mark": {"type": "text", "text": "z", "align": "left", "baseline": "middle", "dx": 6, "fontSize": 22, "fontStyle": "italic", "color": "white"},
        "encoding": {"x": {"field": "x1", "type": "quantitative", "axis": null}, "y": {"field": "ym", "type": "quantitative"}}
      },
      {
        "data": {"name": "boxes"},
        "transform": [{"filter": "datum.zg == '0.45'"}],
        "mark": {"type": "text", "text": "g", "align": "left", "baseline": "middle", "dx": 17, "dy": 6, "fontSize": 15, "fontStyle": "italic", "color": "white"},
        "encoding": {"x": {"field": "x1", "type": "quantitative", "axis": null}, "y": {"field": "ym", "type": "quantitative"}}
      },
      {
        "data": {"name": "boxes"},
        "transform": [{"filter": "datum.zg == '0.45'"}],
        "mark": {"type": "text", "align": "left", "baseline": "middle", "dx": 36, "fontSize": 22, "color": "white"},
        "encoding": {"x": {"field": "x1", "type": "quantitative", "axis": null}, "y": {"field": "ym", "type": "quantitative"}, "text": {"value": "="}}
      },
      {
        "data": {"name": "boxes"},
        "transform": [{"filter": "datum.zg == '0.45'"}],
        "mark": {"type": "text", "align": "left", "baseline": "middle", "dx": 57, "fontSize": 22, "color": "white"},
        "encoding": {"x": {"field": "x1", "type": "quantitative", "axis": null}, "y": {"field": "ym", "type": "quantitative"}, "text": {"field": "label"}}
      }
    ]
  },
  {
    "width": 564, "height": 588,
    "resolve": {"axis": {"x": "independent"}},
    "layer": [
      {
        "data": {"name": "curves"},
        "transform": [{"filter": "datum.zg == '0.75'"}],
        "mark": {"type": "line", "clip": true, "strokeWidth": 2.8},
        "encoding": {
          "x": {"field": "N", "type": "quantitative", "scale": {"type": "log", "domain": [10, 1000000000], "nice": false},
            "axis": {"orient": "bottom", "values": [10, 1000, 100000, 10000000, 1000000000], "labelExpr": "'10' + ['⁰','¹','²','³','⁴','⁵','⁶','⁷','⁸','⁹'][round(log(datum.value)/LN10)]", "tickSize": -6, "labelPadding": 9, "title": "N", "titleFontSize": 27, "titleFontStyle": "italic", "titleX": 253, "titleY": 59, "titleAlign": "left", "titleBaseline": "alphabetic"}},
          "y": {"field": "sigma", "type": "quantitative", "scale": {"type": "log", "domain": [0.001, 4.2], "nice": false},
            "axis": {"values": [0.001,0.002,0.003,0.004,0.005,0.006,0.007,0.008,0.009,0.01,0.02,0.03,0.04,0.05,0.06,0.07,0.08,0.09,0.1,0.2,0.3,0.4,0.5,0.6,0.7,0.8,0.9,1,2,3,4],
              "labels": false, "title": null,
              "tickSize": {"condition": {"test": "indexof([0.001,0.01,0.1,1], datum.value) >= 0", "value": -6}, "value": -3.5}}},
          "color": {"field": "probe", "type": "nominal", "scale": {"domain": ["RSD", "kSZ", "RSD+kSZ"], "range": ["#808080", "#2A9D8F", "#E07A5F"]},
            "legend": {"encode": {"symbols": {"update": {"strokeDash": {"signal": "datum.value == 'RSD' ? [10, 5] : [1, 0]"}}}}}},
          "strokeDash": {"field": "dm", "type": "nominal", "scale": {"domain": ["rsd", "1000", "300", "100"], "range": [[12, 5], [1, 0], [11, 4.5], [13, 4, 2.5, 4]]}, "legend": null}
        }
      },
      {
        "data": {"name": "boxes"},
        "transform": [{"filter": "datum.zg == '0.75'"}],
        "mark": {"type": "rect", "fill": "#E07A5F", "fillOpacity": 0.4, "stroke": "#E07A5F", "strokeOpacity": 0.4, "strokeWidth": 1.5},
        "encoding": {
          "x": {"field": "x1", "type": "quantitative", "scale": {"type": "log", "domain": [10, 1000000000], "nice": false},
            "axis": {"orient": "bottom", "labels": false, "ticks": false, "domain": false, "title": "FRB", "titleFontSize": 19, "titleFontStyle": "italic", "titleX": 273, "titleY": 64, "titleAlign": "left", "titleBaseline": "alphabetic"}},
          "x2": {"field": "x2"},
          "y": {"field": "y1", "type": "quantitative", "scale": {"type": "log", "domain": [0.001, 4.2], "nice": false}},
          "y2": {"field": "y2"}
        }
      },
      {
        "data": {"name": "boxes"},
        "transform": [{"filter": "datum.zg == '0.75'"}],
        "mark": {"type": "text", "text": "z", "align": "left", "baseline": "middle", "dx": 6, "fontSize": 22, "fontStyle": "italic", "color": "white"},
        "encoding": {"x": {"field": "x1", "type": "quantitative", "axis": null}, "y": {"field": "ym", "type": "quantitative"}}
      },
      {
        "data": {"name": "boxes"},
        "transform": [{"filter": "datum.zg == '0.75'"}],
        "mark": {"type": "text", "text": "g", "align": "left", "baseline": "middle", "dx": 17, "dy": 6, "fontSize": 15, "fontStyle": "italic", "color": "white"},
        "encoding": {"x": {"field": "x1", "type": "quantitative", "axis": null}, "y": {"field": "ym", "type": "quantitative"}}
      },
      {
        "data": {"name": "boxes"},
        "transform": [{"filter": "datum.zg == '0.75'"}],
        "mark": {"type": "text", "align": "left", "baseline": "middle", "dx": 36, "fontSize": 22, "color": "white"},
        "encoding": {"x": {"field": "x1", "type": "quantitative", "axis": null}, "y": {"field": "ym", "type": "quantitative"}, "text": {"value": "="}}
      },
      {
        "data": {"name": "boxes"},
        "transform": [{"filter": "datum.zg == '0.75'"}],
        "mark": {"type": "text", "align": "left", "baseline": "middle", "dx": 57, "fontSize": 22, "color": "white"},
        "encoding": {"x": {"field": "x1", "type": "quantitative", "axis": null}, "y": {"field": "ym", "type": "quantitative"}, "text": {"field": "label"}}
      }
    ]
  }
]
}
